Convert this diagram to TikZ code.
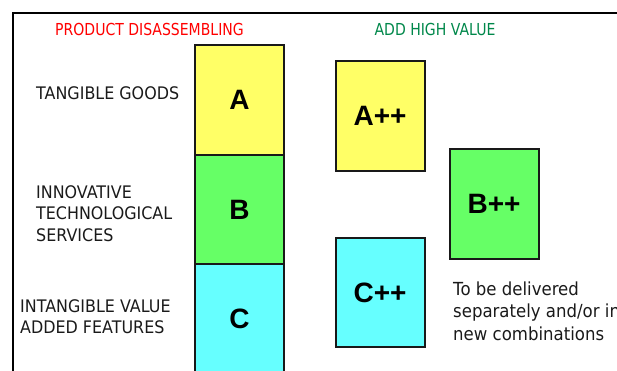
\documentclass[tikz,border=0pt]{standalone}
\usepackage{fontspec}
\setmainfont{DejaVu Sans}[FakeStretch=0.92]
\newfontfamily\headfont{DejaVu Sans}[FakeStretch=0.85]
\newfontfamily\boxfont{Liberation Sans}[BoldFont={Liberation Sans Bold}]
\definecolor{byel}{HTML}{FFFF66}
\definecolor{bgrn}{HTML}{66FF66}
\definecolor{bcyn}{HTML}{66FFFF}
\definecolor{hred}{HTML}{FF0000}
\definecolor{hgrn}{HTML}{00874A}
\definecolor{txt}{HTML}{1A1A1A}
\begin{document}
\begin{tikzpicture}[x=1pt,y=-1pt,
  cell/.style={draw=black!90,line width=2pt,minimum width=89pt,inner sep=0pt,
    font=\boxfont\bfseries\fontsize{28}{28}\selectfont,text=black},
  lab/.style={font=\fontsize{17.3}{21.5}\selectfont,text=txt,align=left,inner sep=0pt},
  note/.style={font=\fontsize{18}{22.5}\selectfont,text=txt,align=left,inner sep=0pt},
  head/.style={font=\headfont\fontsize{16.5}{20}\selectfont,inner sep=0pt}]
\useasboundingbox (0,0) rectangle (617,370);
\clip (0,0) rectangle (617,370);
% frame
\draw[line width=2.2pt] (13,400) -- (13,13) -- (640,13);
% headers
\node[head,text=hred] (h1) at (149.5,29) {PRODUCT DISASSEMBLING};
\node[head,text=hgrn] (h2) at (435,29) {ADD HIGH VALUE};
% left column
\node[cell,fill=byel,minimum height=110pt] (A) at (239.5,100) {A};
\node[cell,fill=bgrn,minimum height=109pt] (B) at (239.5,209.5) {B};
\node[cell,fill=bcyn,minimum height=110pt] (C) at (239.5,319) {C};
% right boxes
\node[cell,fill=byel,minimum height=110pt] (A2) at (380,116) {A++};
\node[cell,fill=bgrn,minimum height=110pt] (B2) at (494,204) {B++};
\node[cell,fill=bcyn,minimum height=109pt] (C2) at (380,292.5) {C++};
% labels
\node[lab,anchor=west] (l1) at (36,93) {TANGIBLE GOODS};
\node[lab,anchor=west] (l2) at (36,213.5) {INNOVATIVE\\TECHNOLOGICAL\\SERVICES};
\node[lab,anchor=west] (l3) at (20,316.5) {INTANGIBLE VALUE\\ADDED FEATURES};
\node[note,anchor=north west] (l4) at (453,281.5) {To be delivered\\separately and/or in\\new combinations};
\end{tikzpicture}
\end{document}
